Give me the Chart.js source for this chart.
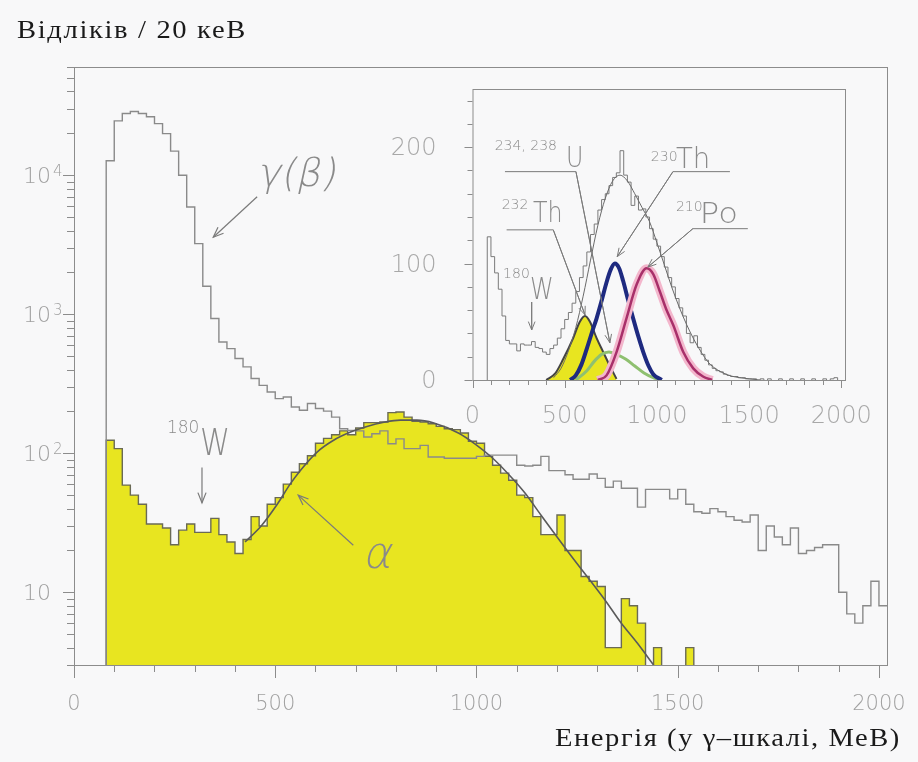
<!DOCTYPE html>
<html>
<head>
<meta charset="utf-8">
<script src="https://cdn.jsdelivr.net/npm/chart.js@4.4.0/dist/chart.umd.min.js"></script>
<style>
  html, body { margin: 0; padding: 0; background: #f8f8f9; }
  #wrap { position: relative; width: 918px; height: 762px; }
  #wrap canvas { position: absolute; left: 0; top: 0; }
</style>
</head>
<body>
<div id="wrap">
  <canvas id="main" width="918" height="762"></canvas>
  <canvas id="inset" width="918" height="762"></canvas>
</div>
<script>
// histogram binning (energy units of the gamma scale)
const binWidth = 20;
const binStart = 80;

// main plot: all events (gamma/beta), counts per bin, 80..2020
const gammaCounts = [
  12700, 24600, 27800, 28700, 27800, 26300, 23500, 19900, 14900, 10000,
  5900, 3220, 1590, 931, 632, 566, 480, 418, 345, 308,
  276, 247, 254, 215, 204, 228, 210, 201, 182, 150,
  146, 145, 131, 138, 145, 117, 127, 108, 108, 114,
  94, 94, 92, 92, 92, 92, 95, 97, 97, 97,
  97, 82, 81, 82, 95, 75, 75, 70, 65, 65,
  71, 66, 57, 63, 56, 56, 41, 55, 55, 55,
  47, 55, 43, 38, 37, 40, 38, 35, 33, 32,
  36, 20, 30, 25, 22, 29, 19, 20, 21, 22,
  22, 10, 7, 6, 8, 12, 8
];

// main plot: alpha events (yellow), 80..1540
const alphaCounts = [
  124, 108, 59, 50, 43, 31, 31, 29, 22, 28,
  31, 27, 27, 34, 26, 23, 19, 24, 35, 30,
  43, 48, 60, 73, 84, 96, 118, 128, 136, 145,
  136, 152, 166, 166, 168, 196, 198, 182, 170, 168,
  163, 156, 150, 148, 140, 122, 118, 95, 82, 72,
  64, 50, 48, 35, 26, 26, 36, 20, 20, 13,
  12, 11, 4, 4, 9, 8, 6, 0, 4, 0,
  0, 0, 4
];

// main plot: fit of the alpha peak
const fitX = [425, 465, 505, 537, 562, 604, 645, 687, 728, 770, 811, 852, 894, 955, 996, 1037, 1079, 1120, 1160, 1234, 1317, 1358, 1400, 1440];
const fitY = [23, 30, 43, 60, 75, 102, 124, 142, 156, 167, 173, 173, 165, 140, 117, 94, 71, 52, 36, 18.5, 9.0, 6.1, 4.3, 3.0];

// inset: alpha spectrum, linear scale, 80..2000
const insetCounts = [
  123, 106, 92, 78, 55, 34, 31, 31, 25, 31,
  30, 30, 33, 28, 27, 24, 22, 27, 30, 36,
  44, 52, 58, 66, 76, 88, 98, 110, 125, 134,
  146, 155, 160, 167, 174, 178, 197, 176, 170, 150,
  158, 146, 147, 140, 130, 121, 115, 106, 97, 88,
  80, 70, 62, 55, 40, 32, 38, 28, 22, 17,
  13, 10, 8, 7, 5, 4, 3, 3, 2, 2,
  1, 1, 1, 0, 1, 0, 1, 0, 0, 1,
  0, 0, 1, 0, 0, 1, 0, 0, 1, 0,
  0, 1, 0, 1, 2, 0
];

// inset: total fit and components
const envX = [440, 480, 520, 560, 600, 640, 680, 720, 760, 800, 840, 880, 920, 960, 1000, 1040, 1080, 1120, 1160, 1200, 1240, 1280, 1320, 1360, 1400, 1450, 1500, 1560];
const envY = [2, 10, 25, 45, 72, 103, 133, 156, 171, 176, 171, 160, 148, 136, 118, 99, 80, 63, 48, 35, 24, 15, 9.5, 6, 3.5, 2, 1, 0];
const th232X = [400, 450, 492, 546, 582, 610, 637, 673, 709, 745, 781];
const th232Y = [0, 6, 18, 36, 50, 55, 50, 36, 24, 12, 1];
const u234X = [560, 620, 660, 700, 740, 780, 830, 880, 930, 980, 1020];
const u234Y = [0, 8, 16, 22, 24, 22, 18, 12, 6, 2, 0];
const th230X = [530, 560, 590, 620, 650, 673, 700, 727, 750, 772, 795, 817, 845, 871, 900, 926, 955, 980, 1026];
const th230Y = [0, 4, 13, 27, 42, 53, 68, 84, 95, 100, 96, 85, 68, 53, 37, 24, 12, 5, 0];
const po210X = [680, 727, 781, 835, 890, 944, 980, 1016, 1050, 1089, 1143, 1197, 1250, 1300];
const po210Y = [0, 4, 24, 53, 82, 96, 91, 76, 61, 47, 24, 10, 3, 0];

// axis ticks
const mainXLabels = [0, 500, 1000, 1500, 2000];
const mainYPowers = [1, 2, 3, 4];
const insetXLabels = [0, 500, 1000, 1500, 2000];
const insetYLabels = [0, 100, 200];

// annotations, in data units
const mainNotes = [
  { text: 'γ(β)', x: 455, y: 8300, size: 39, sx: 1, skew: true },
  { text: '180', x: 231, y: 139, size: 17, sx: 1 },
  { text: 'W', x: 313, y: 97, size: 38, sx: 0.8 },
  { text: 'α', x: 716, y: 15, size: 44, sx: 1, skew: true }
];
const mainArrows = [
  [[455, 7000], [346, 3580]],
  [[318, 79], [318, 44]],
  [[694, 21.8], [557, 50]]
];
const insetNotes = [
  { text: '234, 238', x: 120, y: 198, size: 14, sx: 1 },
  { text: 'U', x: 507, y: 183, size: 28, sx: 0.85 },
  { text: '232', x: 158, y: 147, size: 14, sx: 1 },
  { text: 'Th', x: 328, y: 136, size: 28, sx: 0.85 },
  { text: '230', x: 967, y: 188, size: 14, sx: 1 },
  { text: 'Th', x: 1103, y: 182, size: 29, sx: 0.95 },
  { text: '210', x: 1103, y: 145, size: 14, sx: 1 },
  { text: 'Po', x: 1233, y: 135, size: 28, sx: 1.15 },
  { text: '180', x: 166, y: 88, size: 14, sx: 1 },
  { text: 'W', x: 312, y: 70, size: 30, sx: 0.8 }
];
const insetLeaders = [
  [[176, 179], [561, 179], [745, 32]],
  [[185, 129], [438, 129], [610, 56]],
  [[1396, 179], [1087, 179], [785, 106]],
  [[1493, 130], [1195, 130], [951, 97]],
  [[321, 67], [321, 43]]
];

// build step outline of a histogram from its counts
function stepPoints(counts, floor, closeRight) {
  const pts = [{ x: binStart, y: floor }];
  counts.forEach((c, i) => pts.push({ x: binStart + i * binWidth, y: c > 0 ? c : floor }));
  const end = binStart + counts.length * binWidth;
  const last = counts[counts.length - 1];
  pts.push({ x: end, y: last > 0 ? last : floor });
  if (closeRight) pts.push({ x: end, y: floor });
  return pts;
}
function curve(xs, ys) { return xs.map((x, i) => ({ x, y: ys[i] })); }

function arrow(ctx, x1, y1, x2, y2, head) {
  ctx.beginPath(); ctx.moveTo(x1, y1); ctx.lineTo(x2, y2); ctx.stroke();
  const a = Math.atan2(y2 - y1, x2 - x1);
  ctx.beginPath();
  ctx.moveTo(x2 - head * Math.cos(a - 0.38), y2 - head * Math.sin(a - 0.38));
  ctx.lineTo(x2, y2);
  ctx.lineTo(x2 - head * Math.cos(a + 0.38), y2 - head * Math.sin(a + 0.38));
  ctx.stroke();
}
function text(ctx, s, px, py, font, color, sx, skew) {
  ctx.save();
  ctx.font = font; ctx.fillStyle = color; ctx.textAlign = 'left'; ctx.textBaseline = 'alphabetic';
  ctx.translate(px, py); ctx.scale(sx || 1, 1);
  if (skew) ctx.transform(1, 0, -0.22, 1, 0, 0);
  ctx.fillText(s, 0, 0);
  ctx.restore();
}
// fit a title to a given width: slight widening, the rest as letter spacing
function titleText(ctx, s, left, base, width, font, color) {
  ctx.save();
  ctx.font = font; ctx.fillStyle = color; ctx.textAlign = 'left'; ctx.textBaseline = 'alphabetic';
  const w = ctx.measureText(s).width;
  const sx = Math.min(1.1, width / w);
  ctx.translate(left, base); ctx.scale(sx, 1);
  if ('letterSpacing' in ctx) ctx.letterSpacing = Math.max(0, (width / sx - w) / s.length).toFixed(2) + 'px';
  ctx.fillText(s, 0, 0);
  ctx.restore();
}
function line(ctx, x1, y1, x2, y2) { ctx.beginPath(); ctx.moveTo(x1, y1); ctx.lineTo(x2, y2); ctx.stroke(); }

// frame, ticks, labels, titles and notes of the main plot
const mainDecor = {
  id: 'mainDecor',
  afterDraw(chart) {
    const { ctx, chartArea: a, scales: { x, y } } = chart;
    ctx.save();
    ctx.strokeStyle = '#8c8c8c'; ctx.lineWidth = 1;
    ctx.strokeRect(a.left + 0.5, a.top + 0.5, a.right - a.left, a.bottom - a.top);
    for (let v = 0; v <= 2000; v += 100) {
      const px = Math.round(x.getPixelForValue(v)) + 0.5;
      line(ctx, px, a.bottom, px, a.bottom + (v % 500 === 0 ? 13 : 7));
    }
    for (let p = 0; p <= 4; p++) {
      for (let m = 1; m <= 9; m++) {
        const v = m * Math.pow(10, p);
        if (v < y.min || v > y.max) continue;
        const py = Math.round(y.getPixelForValue(v)) + 0.5;
        line(ctx, a.left - (m === 1 ? 11 : 7), py, a.left, py);
      }
    }
    ctx.fillStyle = '#a0a0a0';
    ctx.font = '200 21px "DejaVu Sans"';
    ctx.textAlign = 'center';
    mainXLabels.forEach(v => ctx.fillText(String(v), x.getPixelForValue(v), a.bottom + 45));
    mainYPowers.forEach(p => {
      const py = y.getPixelForValue(Math.pow(10, p));
      ctx.font = '200 22px "DejaVu Sans"'; ctx.textAlign = 'right';
      ctx.fillText('10', a.left - 23, py + 8);
      if (p > 1) {
        ctx.font = '200 15px "DejaVu Sans"'; ctx.textAlign = 'left';
        ctx.fillText(String(p), a.left - 21, py + 1);
      }
    });
    // axis titles
    titleText(ctx, 'Відліків / 20 кеВ', 17, 38, 230, '26px "Liberation Serif"', '#1a1a1a');
    titleText(ctx, 'Енергія (у γ–шкалі, МеВ)', 555, 746, 346, '26px "Liberation Serif"', '#1a1a1a');
    mainNotes.forEach(n => text(ctx, n.text, x.getPixelForValue(n.x), y.getPixelForValue(n.y), '200 ' + n.size + 'px "DejaVu Sans"', '#8a8a8a', n.sx, n.skew));
    ctx.strokeStyle = '#7a7a7a'; ctx.lineWidth = 1.2;
    mainArrows.forEach(([f, t]) => arrow(ctx, x.getPixelForValue(f[0]), y.getPixelForValue(f[1]), x.getPixelForValue(t[0]), y.getPixelForValue(t[1]), 11));
    ctx.restore();
  }
};

// frame, ticks, labels and notes of the inset
const insetDecor = {
  id: 'insetDecor',
  afterDraw(chart) {
    const { ctx, chartArea: a, scales: { x, y } } = chart;
    ctx.save();
    ctx.strokeStyle = '#8c8c8c'; ctx.lineWidth = 1;
    ctx.strokeRect(a.left + 0.5, a.top + 0.5, a.right - a.left, a.bottom - a.top);
    for (let v = 0; v <= 2000; v += 100) {
      const px = Math.round(x.getPixelForValue(v)) + 0.5;
      line(ctx, px, a.bottom, px, a.bottom + (v % 500 === 0 ? 8 : 5));
    }
    for (let v = 0; v <= 240; v += 20) {
      const py = Math.round(y.getPixelForValue(v)) + 0.5;
      line(ctx, a.left - (v % 100 === 0 ? 8 : 5), py, a.left, py);
    }
    ctx.fillStyle = '#a8a8a8';
    ctx.font = '200 24px "DejaVu Sans"';
    ctx.textAlign = 'center'; ctx.textBaseline = 'alphabetic';
    insetXLabels.forEach(v => ctx.fillText(String(v), x.getPixelForValue(v), a.bottom + 43));
    ctx.textAlign = 'right'; ctx.textBaseline = 'middle';
    insetYLabels.forEach(v => ctx.fillText(String(v), a.left - 36, y.getPixelForValue(v) + 2));
    insetNotes.forEach(n => text(ctx, n.text, x.getPixelForValue(n.x), y.getPixelForValue(n.y), '200 ' + n.size + 'px "DejaVu Sans"', '#8a8a8a', n.sx));
    ctx.strokeStyle = '#7a7a7a'; ctx.lineWidth = 1;
    insetLeaders.forEach(pts => {
      const px = pts.map(p => [x.getPixelForValue(p[0]), y.getPixelForValue(p[1])]);
      ctx.beginPath();
      px.forEach((p, i) => i ? ctx.lineTo(p[0], p[1]) : ctx.moveTo(p[0], p[1]));
      ctx.stroke();
      const n = px.length;
      arrow(ctx, px[n - 2][0], px[n - 2][1], px[n - 1][0], px[n - 1][1], 9);
    });
    ctx.restore();
  }
};

const common = {
  responsive: false,
  animation: false,
  events: [],
  plugins: { legend: { display: false }, tooltip: { enabled: false } },
  elements: { point: { radius: 0 } }
};

new Chart(document.getElementById('main'), {
  type: 'line',
  data: {
    datasets: [
      { data: curve(fitX, fitY), borderColor: '#5a5a5a', borderWidth: 1.6, cubicInterpolationMode: 'monotone', fill: false, order: 0 },
      { data: stepPoints(gammaCounts, 2, false), borderColor: '#8a8a8a', borderWidth: 1.4, stepped: true, fill: false, order: 1 },
      { data: stepPoints(alphaCounts, 2, true), borderColor: '#6a6a55', borderWidth: 1.4, backgroundColor: '#e8e520', stepped: true, fill: 'start', order: 2 }
    ]
  },
  options: Object.assign({}, common, {
    layout: { padding: { left: 74, top: 67, right: 31, bottom: 97 } },
    scales: {
      x: { type: 'linear', display: false, min: 0, max: 2020 },
      y: { type: 'logarithmic', display: false, min: 3, max: 60000 }
    }
  }),
  plugins: [mainDecor]
});

new Chart(document.getElementById('inset'), {
  type: 'line',
  data: {
    datasets: [
      { data: curve(envX, envY), borderColor: '#6a6a6a', borderWidth: 1, cubicInterpolationMode: 'monotone', fill: false, order: 0 },
      { data: stepPoints(insetCounts, -3, false), borderColor: '#7a7a7a', borderWidth: 1, stepped: true, fill: false, order: 1 },
      { data: curve(po210X, po210Y), borderColor: '#a8306a', borderWidth: 2.5, cubicInterpolationMode: 'monotone', fill: false, order: 2 },
      { data: curve(po210X, po210Y), borderColor: '#f3b6cc', borderWidth: 8, cubicInterpolationMode: 'monotone', fill: false, order: 3 },
      { data: curve(th230X, th230Y), borderColor: '#1e2a80', borderWidth: 4, cubicInterpolationMode: 'monotone', fill: false, order: 4 },
      { data: curve(u234X, u234Y), borderColor: '#8fc070', borderWidth: 3, cubicInterpolationMode: 'monotone', fill: false, order: 5 },
      { data: curve(th232X, th232Y), borderColor: '#444444', borderWidth: 2, backgroundColor: '#e8e520', cubicInterpolationMode: 'monotone', fill: 'origin', order: 6 }
    ]
  },
  options: Object.assign({}, common, {
    layout: { padding: { left: 472.5, top: 89, right: 73, bottom: 382 } },
    scales: {
      x: { type: 'linear', display: false, min: 0, max: 2020 },
      y: { type: 'linear', display: false, min: 0, max: 250 }
    }
  }),
  plugins: [insetDecor]
});
</script>
</body>
</html>
